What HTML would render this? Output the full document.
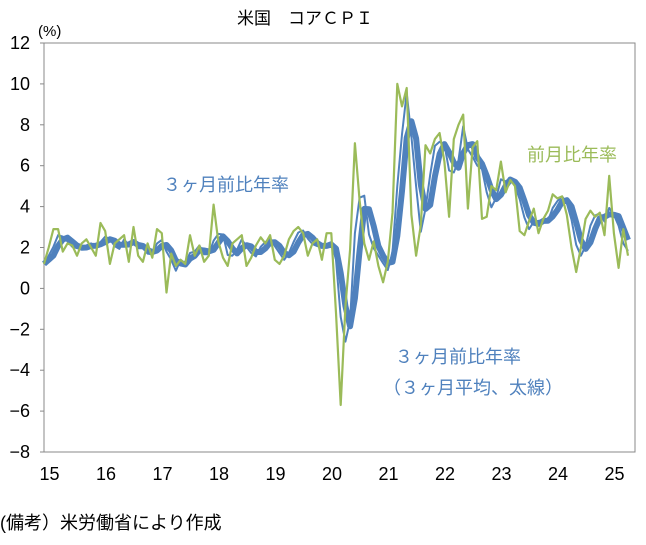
<!DOCTYPE html>
<html><head><meta charset="utf-8"><style>
html,body{margin:0;padding:0;background:#fff;}
svg text{font-family:"Liberation Sans","Noto Sans CJK JP",sans-serif;}
</style></head><body>
<svg id="s" width="646" height="540" xmlns="http://www.w3.org/2000/svg">
<rect width="646" height="540" fill="#fff"/>
<text x="305" y="24" font-size="17" text-anchor="middle" fill="#000">米国　コアＣＰＩ</text>
<text x="38" y="36" font-size="15" fill="#000">(%)</text>
<rect x="44" y="43" width="591" height="409" fill="none" stroke="#888" stroke-width="1"/>
<g id="yt" font-size="18" fill="#000" text-anchor="end"></g>
<g id="xt" font-size="18" fill="#000" text-anchor="middle"></g>
<g id="lines"></g>
<text x="163" y="191" font-size="18" fill="#4F81BD">３ヶ月前比年率</text>
<text x="527" y="161" font-size="18" fill="#9BBB59">前月比年率</text>
<text x="395" y="363" font-size="18" fill="#4F81BD">３ヶ月前比年率</text>
<text x="383" y="394" font-size="18" fill="#4F81BD">（３ヶ月平均、太線）</text>
<text x="0" y="529" font-size="18" fill="#000">(備考）米労働省により作成</text>
</svg>
<script>
var NS="http://www.w3.org/2000/svg";
function Y(v){return 288.4-v*20.45;}
function X(i){return 44+i*4.71;}
var yt=document.getElementById('yt');
for(var v=12;v>=-8;v-=2){var t=document.createElementNS(NS,'text');t.setAttribute('x',30);t.setAttribute('y',Y(v)+6);t.textContent=(v<0?'−'+(-v):v);yt.appendChild(t);
var l=document.createElementNS(NS,'line');l.setAttribute('x1',40);l.setAttribute('x2',44);l.setAttribute('y1',Y(v));l.setAttribute('y2',Y(v));l.setAttribute('stroke','#888');yt.appendChild(l);}
var xt=document.getElementById('xt');
for(var k=0;k<=10;k++){var t=document.createElementNS(NS,'text');t.setAttribute('x',49.5+56.5*k);t.setAttribute('y',480);t.textContent=15+k;xt.appendChild(t);}
var g=[1.2,2.0,2.9,2.9,1.8,2.2,2.1,1.6,2.2,2.4,2.0,1.6,
3.2,2.8,1.2,2.2,2.4,2.6,1.3,3.0,1.6,1.3,2.2,1.5,
2.9,2.7,-0.2,1.7,1.1,1.4,1.2,2.6,1.6,2.1,1.3,1.6,
4.1,2.3,1.5,1.1,2.2,2.4,2.6,1.1,1.5,2.1,2.5,2.2,
2.6,1.4,1.2,1.6,2.4,2.8,3.0,2.7,1.6,2.2,2.4,1.4,
2.7,2.7,-1.2,-5.7,-0.9,1.9,7.1,4.3,2.2,1.4,2.3,1.1,
0.3,1.3,3.7,10.0,8.9,9.8,3.6,1.6,3.1,7.0,6.6,7.3,
7.6,6.2,3.5,7.3,8.0,8.5,3.9,6.9,7.2,3.4,3.5,5.0,
4.8,6.2,4.7,5.3,5.0,2.8,2.6,3.3,3.9,2.7,3.4,3.8,
4.6,4.4,4.5,3.6,2.0,0.8,2.0,3.4,3.8,3.5,3.7,2.6,
5.5,2.7,1.0,2.9,1.6];
function avg(a){return a.map(function(_,i){var s=0,n=0;for(var j=Math.max(0,i-2);j<=i;j++){s+=a[j];n++;}return s/n;});}
var t1=avg(g),t2=avg(t1);
function path(a,c,w){var d='';a.forEach(function(v,i){d+=(i?'L':'M')+X(i).toFixed(1)+','+Y(v).toFixed(1);});
var p=document.createElementNS(NS,'path');p.setAttribute('d',d);p.setAttribute('fill','none');p.setAttribute('stroke',c);p.setAttribute('stroke-width',w);p.setAttribute('stroke-linejoin','round');document.getElementById('lines').appendChild(p);}
path(t2,'#4F81BD',6);
path(t1,'#4F81BD',2);
path(g,'#9BBB59',2.2);
</script>
</body></html>
